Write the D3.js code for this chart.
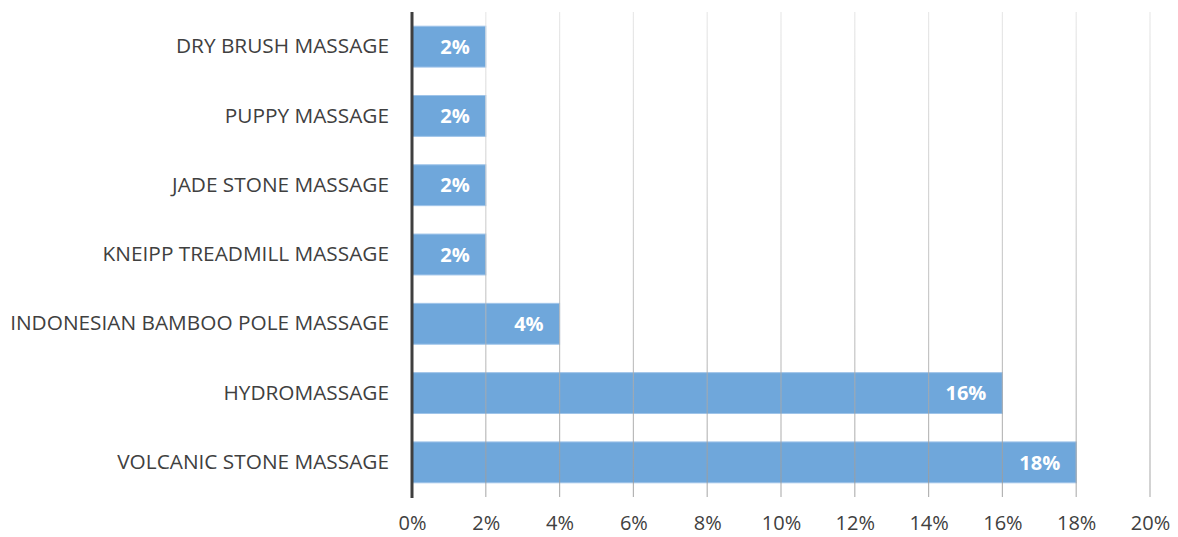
<!DOCTYPE html>
<html>
<head>
<meta charset="utf-8">
<script src="https://cdn.jsdelivr.net/npm/d3@7"></script>
<style>
  html, body { margin: 0; padding: 0; background: #fff; }
  svg { display: block; font-family: "Open Sans", "Noto Sans", sans-serif; }
</style>
</head>
<body>
<svg id="chart" width="1178" height="537"></svg>
<script>
// Massage types and their share (%)
const categories = [
  "DRY BRUSH MASSAGE",
  "PUPPY MASSAGE",
  "JADE STONE MASSAGE",
  "KNEIPP TREADMILL MASSAGE",
  "INDONESIAN BAMBOO POLE MASSAGE",
  "HYDROMASSAGE",
  "VOLCANIC STONE MASSAGE"
];
const values = [2, 2, 2, 2, 4, 16, 18];
const tickValues = [0, 2, 4, 6, 8, 10, 12, 14, 16, 18, 20];

const svg = d3.select("#chart");
const margin = { left: 412, right: 28, top: 12, bottom: 40 };
const W = 1178, H = 537;

const x = d3.scaleLinear().domain([0, 20]).range([margin.left, W - margin.right]);
const y = d3.scaleBand().domain(categories).range([margin.top, H - margin.bottom]).paddingInner(0.41).paddingOuter(0.205);

// Gridline gradient: pale at top, darker toward the axis
const defs = svg.append("defs");
const grad = defs.append("linearGradient").attr("id", "gridGrad")
  .attr("gradientUnits", "userSpaceOnUse")
  .attr("x1", 0).attr("y1", margin.top).attr("x2", 0).attr("y2", H - margin.bottom);
grad.append("stop").attr("offset", "0%").attr("stop-color", "#e2e2e2");
grad.append("stop").attr("offset", "100%").attr("stop-color", "#9a9a9a");

// Bars
svg.append("g").selectAll("rect").data(values).join("rect")
  .attr("x", x(0))
  .attr("y", (d, i) => y(categories[i]))
  .attr("width", d => x(d) - x(0))
  .attr("height", y.bandwidth())
  .attr("fill", "#6fa7db")
  .attr("stroke", "#9fc4e9")
  .attr("stroke-width", 1);

// Vertical gridlines drawn over the bars
svg.append("g").selectAll("line").data(tickValues.slice(1)).join("line")
  .attr("x1", d => x(d)).attr("x2", d => x(d))
  .attr("y1", margin.top).attr("y2", H - margin.bottom)
  .attr("stroke", "url(#gridGrad)")
  .attr("stroke-opacity", 0.75)
  .attr("stroke-width", 1.2);

// Value labels inside bar ends
svg.append("g").selectAll("text").data(values).join("text")
  .attr("x", d => x(d) - 16)
  .attr("y", (d, i) => y(categories[i]) + y.bandwidth() / 2)
  .attr("dy", "0.36em")
  .attr("text-anchor", "end")
  .attr("fill", "#ffffff")
  .attr("font-weight", "bold")
  .attr("font-size", 20)
  .text(d => d + "%");

// Category axis
const yAxis = d3.axisLeft(y).tickSize(0).tickPadding(23);
const gy = svg.append("g").attr("transform", `translate(${x(0)},0)`).call(yAxis);
gy.select(".domain").remove();
gy.selectAll("text").attr("fill", "#404040").attr("font-size", 20.8)
  .style("font-family", "'Open Sans', sans-serif");

// Baseline
svg.append("line")
  .attr("x1", x(0)).attr("x2", x(0))
  .attr("y1", margin.top).attr("y2", H - margin.bottom + 1)
  .attr("stroke", "#3f3f3f").attr("stroke-width", 3);

// Value axis labels
const xAxis = d3.axisBottom(x).tickValues(tickValues).tickSize(0).tickPadding(19).tickFormat(d => d + "%");
const gx = svg.append("g").attr("transform", `translate(0,${H - margin.bottom})`).call(xAxis);
gx.select(".domain").remove();
gx.selectAll("text").attr("fill", "#404040").attr("font-size", 20)
  .style("font-family", "'Open Sans', sans-serif");
</script>
</body>
</html>
